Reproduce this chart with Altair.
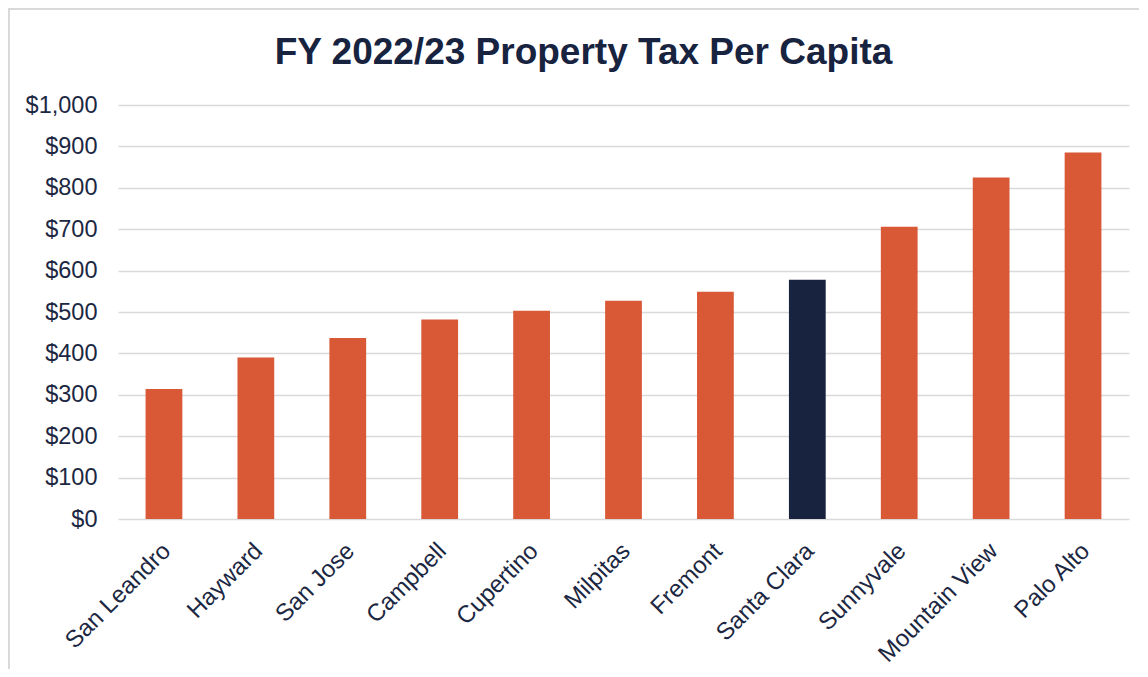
import altair as alt
import pandas as pd

cities = ["San Leandro", "Hayward", "San Jose", "Campbell", "Cupertino", "Milpitas",
          "Fremont", "Santa Clara", "Sunnyvale", "Mountain View", "Palo Alto"]
values = [314, 390, 437, 482, 503, 527, 549, 578, 706, 825, 885]
highlight = ["other"] * 7 + ["Santa Clara"] + ["other"] * 3

df = pd.DataFrame({"city": cities, "value": values, "group": highlight})

FONT = "Liberation Sans"
NAVY = "#17233F"
LABEL = "#1C2742"

bars = alt.Chart(df).mark_bar().encode(
    x=alt.X("city:N", sort=cities, title=None,
            scale=alt.Scale(paddingInner=0.6, paddingOuter=0.3),
            axis=alt.Axis(labelAngle=-45, labelAlign="right", labelBaseline="middle",
                          labelPadding=28, labelOffset=3, labelFontSize=24,
                          labelColor=LABEL, labelFont=FONT, domain=False, ticks=False,
                          grid=False)),
    y=alt.Y("value:Q", title=None,
            scale=alt.Scale(domain=[0, 1000]),
            axis=alt.Axis(values=list(range(0, 1001, 100)), format="$,.0f",
                          labelFontSize=23.5, labelColor=LABEL, labelFont=FONT,
                          labelPadding=21, domain=False, ticks=False,
                          gridColor="#D9D9D9", gridWidth=1.5)),
    color=alt.Color("group:N", legend=None,
                    scale=alt.Scale(domain=["other", "Santa Clara"],
                                    range=["#D95836", NAVY])),
)

frame = alt.Chart(df).mark_rect(fill=None, stroke="#D9D9D9", strokeWidth=1.5).encode(
    x=alt.value(-109), x2=alt.value(1040), y=alt.value(-96), y2=alt.value(600)
)

chart = alt.layer(frame, bars).properties(
    width=1011, height=414,
    title=alt.TitleParams("FY 2022/23 Property Tax Per Capita", fontSize=37,
                          font=FONT, fontWeight="bold", color=NAVY,
                          anchor="middle", dx=-40, baseline="alphabetic",
                          offset=-93),
    autosize=alt.AutoSizeParams(type="none"),
    padding={"left": 110, "top": 97, "right": 10, "bottom": 150},
).configure_view(stroke=None)

chart.save("out.html", embed_options={"renderer": "svg", "actions": False})
